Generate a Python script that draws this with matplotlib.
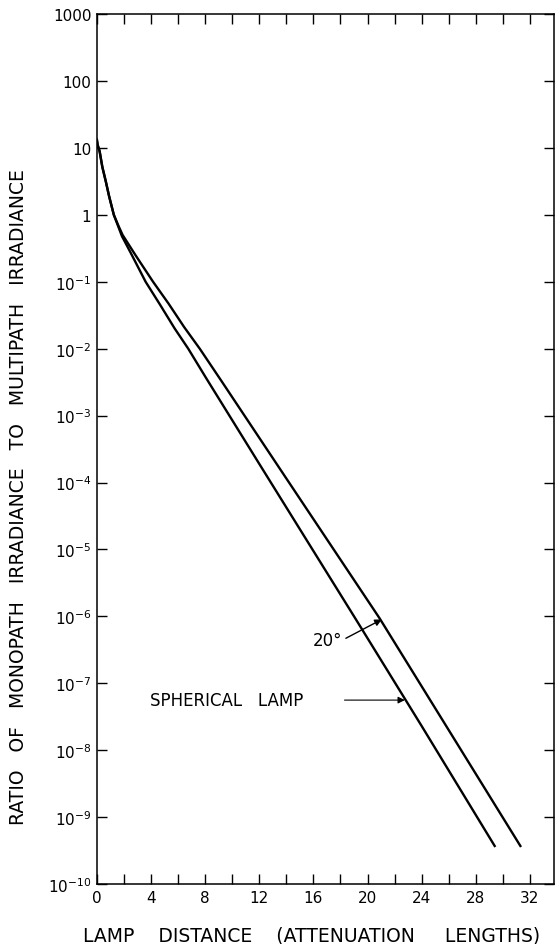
import numpy as np
import matplotlib
matplotlib.use('Agg')
import matplotlib.pyplot as plt

# values (x in attenuation lengths, y ratio)
sph_x = [0.0, 0.05, 0.2, 0.4, 0.65, 0.9, 1.25, 1.85, 2.5, 3.6, 4.65, 5.75,
         6.75, 8.05, 12.0, 19.1, 24.0, 29.4]
sph_y = [13.2, 11.2, 8.9, 5.2, 3.2, 1.9, 1.0, 0.48, 0.27, 0.1, 0.046, 0.02,
         0.01, 3.7e-3, 1.9e-4, 9.3e-7, 2.3e-8, 3.7e-10]
deg20_x = [0.0, 0.05, 0.2, 0.4, 0.65, 0.9, 1.25, 1.6, 1.9, 2.85, 4.15, 5.3,
           6.45, 7.6, 9.2, 14.0, 20.9, 26.0, 31.3]
deg20_y = [13.2, 11.2, 8.9, 5.2, 3.2, 1.9, 1.0, 0.68, 0.5, 0.25, 0.1, 0.047,
           0.021, 0.01, 3.3e-3, 1.15e-4, 9.3e-7, 2.0e-8, 3.7e-10]

x_ticks = [0, 4, 8, 12, 16, 20, 24, 28, 32]
y_ticks = [1e3, 1e2, 1e1, 1e0] + [10.0 ** -k for k in range(1, 11)]
y_labels = ['1000', '100', '10', '1'] + ['$10^{-%d}$' % k for k in range(1, 11)]

plt.rcParams['font.family'] = ['DejaVu Sans']
plt.rcParams['mathtext.default'] = 'regular'

fig = plt.figure(figsize=[5.57, 9.45], dpi=100)
ax = fig.add_axes([0.174, 0.0635, 0.821, 0.9205])

ax.plot(sph_x, sph_y, '-', color='k', lw=1.7, solid_joinstyle='round')
ax.plot(deg20_x, deg20_y, '-', color='k', lw=1.7, solid_joinstyle='round')

ax.set_yscale('log')
ax.set_xlim(0, 33.8)
ax.set_ylim(1e-10, 1e3)

ax.set_xticks(x_ticks)
ax.set_xticks(np.arange(2, 34, 4), minor=True)
ax.set_yticks(y_ticks)
ax.set_yticklabels(y_labels)
ax.yaxis.set_minor_locator(matplotlib.ticker.NullLocator())
ax.tick_params(which='both', direction='in', length=7, width=1,
               top=True, right=True, labelsize=11, pad=4)

for s in ax.spines.values():
    s.set_linewidth(1.1)

ax.set_xlabel('LAMP    DISTANCE    (ATTENUATION     LENGTHS)', fontsize=13.5,
              labelpad=14)
ax.set_ylabel('RATIO   OF   MONOPATH   IRRADIANCE   TO   MULTIPATH   IRRADIANCE',
              fontsize=13.5)
ax.yaxis.set_label_coords(-0.15, 0.446)
ax.xaxis.set_label_coords(0.47, -0.048)

# annotations
ax.text(17.07, 4.4e-7, '20°', fontsize=12, ha='center', va='center')
ax.annotate('', xy=(21.06, 9.0e-7), xytext=(18.4, 4.7e-7),
            arrowprops=dict(arrowstyle='-|>', color='k', lw=1,
                            shrinkA=0, shrinkB=0))
ax.text(3.9, 5.6e-8, 'SPHERICAL   LAMP', fontsize=12, ha='left', va='center')
ax.annotate('', xy=(22.76, 5.6e-8), xytext=(18.3, 5.6e-8),
            arrowprops=dict(arrowstyle='-|>', color='k', lw=0.8,
                            shrinkA=0, shrinkB=0))

fig.savefig('out.png', dpi=100)
